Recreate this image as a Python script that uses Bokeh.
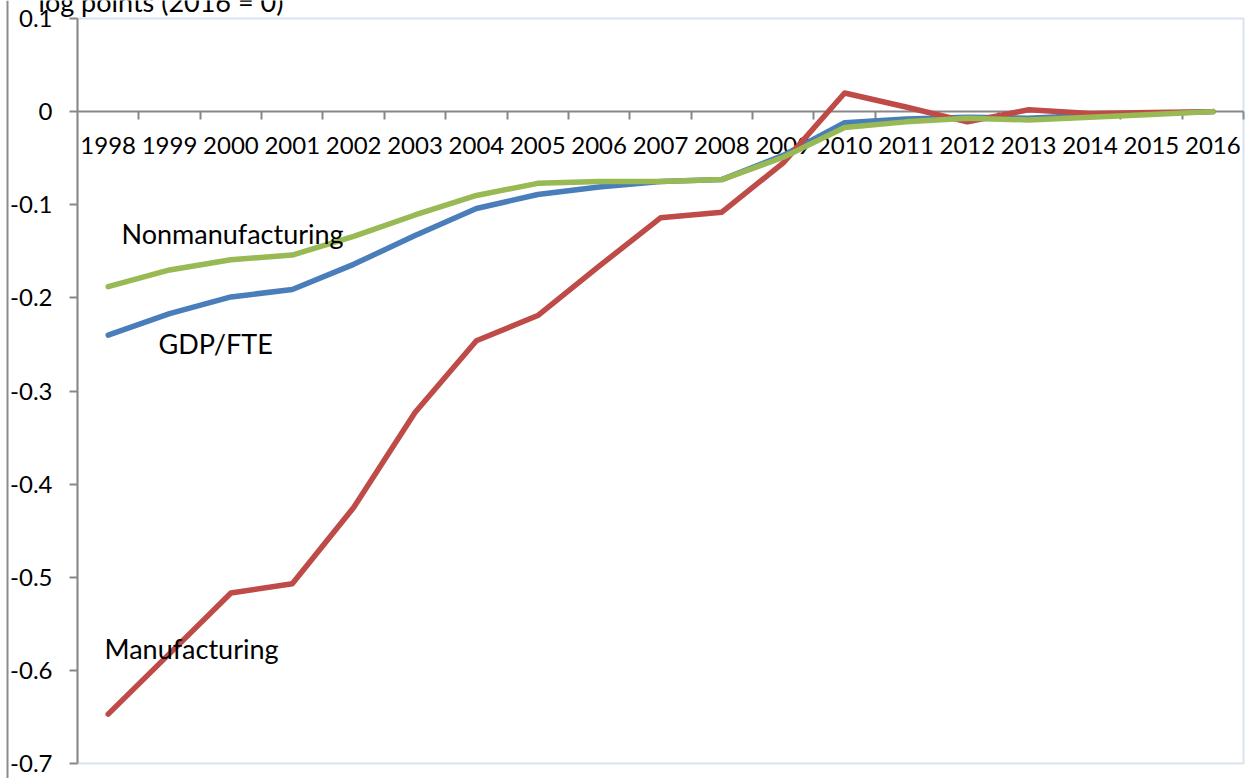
from bokeh.plotting import figure
from bokeh.models import (Range1d, LinearAxis, FixedTicker, PrintfTickFormatter,
                          Label, Span, BoxAnnotation)
from bokeh.embed import file_html
from bokeh.resources import INLINE

# Labour productivity, log points relative to 2016
years = list(range(1998, 2017))
gdp_fte = [-0.240, -0.217, -0.199, -0.191, -0.164, -0.133, -0.104, -0.089, -0.081,
           -0.075, -0.073, -0.047, -0.012, -0.008, -0.006, -0.007, -0.004, -0.002, 0.0]
nonmanufacturing = [-0.188, -0.170, -0.159, -0.154, -0.134, -0.111, -0.090, -0.077, -0.075,
                    -0.075, -0.073, -0.049, -0.017, -0.011, -0.007, -0.009, -0.006, -0.003, 0.0]
manufacturing = [-0.647, -0.582, -0.517, -0.507, -0.425, -0.323, -0.246, -0.219, -0.166,
                 -0.114, -0.108, -0.055, 0.020, 0.005, -0.011, 0.002, -0.002, -0.001, 0.0]
y_ticks = [-0.7, -0.6, -0.5, -0.4, -0.3, -0.2, -0.1, 0.0, 0.1]
y_min, y_max = -0.7, 0.1

W, H = 1252, 778
# plot box inside the canvas (pixels)
box_left, box_right, box_top, box_bottom = 77, 1243, 18, 763

x_lo, x_hi = years[0] - 0.5, years[-1] + 0.5
px_per_year = (box_right - box_left) / (x_hi - x_lo)
px_per_unit = (box_bottom - box_top) / (y_max - y_min)
x_range = Range1d(x_lo - box_left / px_per_year, x_hi + (W - box_right) / px_per_year)
y_range = Range1d(y_min - (H - box_bottom) / px_per_unit, y_max + box_top / px_per_unit)

FONT = "Lato"
NUM_FS = "24px"
TXT_FS = "27px"
AXIS_GREY = "#878787"

p = figure(width=W, height=H, x_range=x_range, y_range=y_range,
           output_backend="svg", toolbar_location=None,
           x_axis_location=None, y_axis_location=None,
           min_border=0, min_border_left=0, min_border_right=0,
           min_border_top=0, min_border_bottom=0)
p.background_fill_color = "white"
p.border_fill_color = "white"
p.outline_line_color = None
p.xgrid.visible = False
p.ygrid.visible = False

# plot area border
p.add_layout(BoxAnnotation(left=x_lo, right=x_hi, bottom=y_min, top=y_max,
                           fill_alpha=0, line_color="#7FA3D5", line_width=2,
                           level="underlay"))

# value axis
yaxis = LinearAxis(fixed_location=x_lo, bounds=(y_min, y_max),
                   ticker=FixedTicker(ticks=y_ticks),
                   formatter=PrintfTickFormatter(format="%.1f"))
yaxis.major_label_overrides = {0: "0"}
yaxis.axis_line_color = AXIS_GREY
yaxis.axis_line_width = 2
yaxis.major_tick_line_color = AXIS_GREY
yaxis.major_tick_line_width = 2
yaxis.major_tick_out = 8
yaxis.major_tick_in = 0
yaxis.minor_tick_line_color = None
yaxis.major_label_standoff = 17
yaxis.major_label_text_font = FONT
yaxis.major_label_text_font_size = NUM_FS
yaxis.major_label_text_color = "black"
p.add_layout(yaxis, "left")

# category axis crossing at zero: line and boundary ticks
xline = LinearAxis(fixed_location=0, bounds=(x_lo, x_hi), level="underlay",
                   ticker=FixedTicker(ticks=[y + 0.5 for y in years]))
xline.axis_line_color = AXIS_GREY
xline.axis_line_width = 2
xline.major_tick_line_color = AXIS_GREY
xline.major_tick_line_width = 2
xline.major_tick_out = 8
xline.major_tick_in = 0
xline.minor_tick_line_color = None
xline.major_label_text_color = None
p.add_layout(xline, "below")

# year labels centred in each category
xlabels = LinearAxis(fixed_location=0, bounds=(x_lo, x_hi), level="underlay",
                     ticker=FixedTicker(ticks=years))
xlabels.axis_line_color = None
xlabels.major_tick_line_color = None
xlabels.major_tick_out = 0
xlabels.major_tick_in = 0
xlabels.minor_tick_line_color = None
xlabels.major_label_standoff = 25
xlabels.major_label_text_font = FONT
xlabels.major_label_text_font_size = NUM_FS
xlabels.major_label_text_color = "black"
p.add_layout(xlabels, "below")

# series
style = dict(line_width=5.5, line_cap="round", line_join="round")
p.line(years, gdp_fte, line_color="#4A7EBB", **style)
p.line(years, manufacturing, line_color="#BE4B48", **style)
p.line(years, nonmanufacturing, line_color="#98B954", **style)

def add_label(text, x, y):
    p.add_layout(Label(x=x, y=y, text=text, text_font=FONT, text_font_size=TXT_FS,
                       text_color="black", text_baseline="alphabetic", text_align="left"))

add_label("Nonmanufacturing", 1998.217, -0.131)
add_label("GDP/FTE", 1998.820, -0.249)
add_label("Manufacturing", 1997.940, -0.577)
add_label("log points (2016 = 0)", 1996.865, 0.1183)

# outer chart border on the left
p.add_layout(Span(location=7, location_units="screen", dimension="height",
                  line_color="#8C8C8C", line_width=2))

open("out.html", "w").write(file_html(p, INLINE))
